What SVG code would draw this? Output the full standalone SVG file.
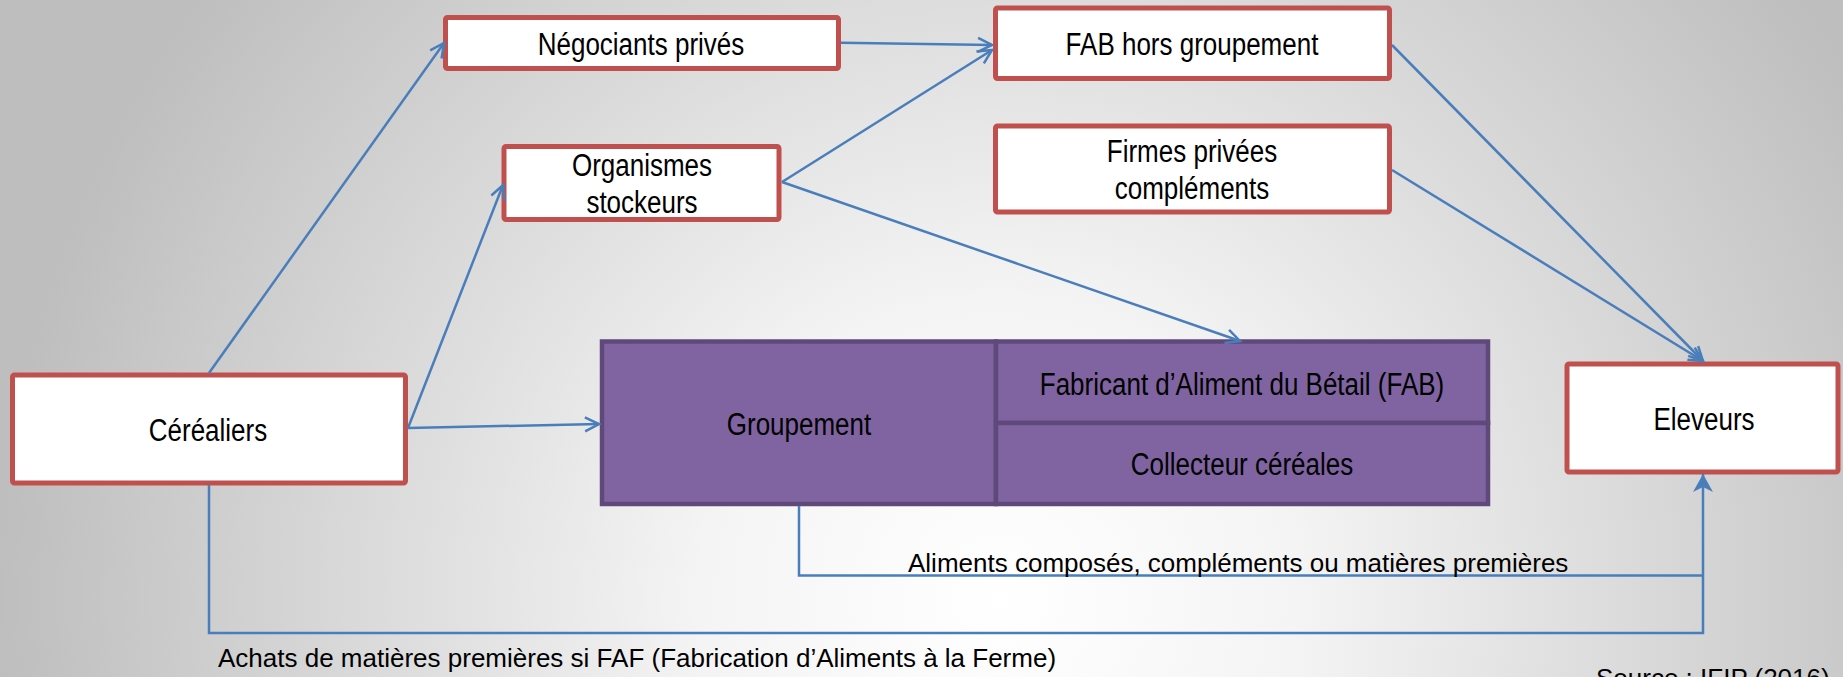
<svg xmlns="http://www.w3.org/2000/svg" width="1843" height="677" viewBox="0 0 1843 677">
<defs>
<radialGradient id="bg" gradientUnits="userSpaceOnUse" cx="1000" cy="600" r="1000">
<stop offset="0" stop-color="#FFFFFF"/>
<stop offset="0.3" stop-color="#F4F4F4"/>
<stop offset="1" stop-color="#BEBEBE"/>
</radialGradient>
<marker id="open" markerUnits="userSpaceOnUse" markerWidth="20" markerHeight="20" refX="15" refY="8" orient="auto" overflow="visible">
<path d="M1,1 L15,8 L1,15" fill="none" stroke="#4A7EBB" stroke-width="2.5"/>
</marker>
<marker id="stealth" markerUnits="userSpaceOnUse" markerWidth="22" markerHeight="24" refX="18" refY="10" orient="auto" overflow="visible">
<path d="M0,0 L18,10 L0,20 L5,10 Z" fill="#4A7EBB"/>
</marker>
</defs>
<style>
.box{fill:#FFFFFF;stroke:#C0504D;stroke-width:5}
.grp{fill:#8064A2;stroke:#5F497A;stroke-width:4.5}
.nt{font-family:"Liberation Sans",Arial,sans-serif;font-size:26px;text-anchor:middle;fill:#000000}
.lbl{font-family:"Liberation Sans",Arial,sans-serif;font-size:26px;fill:#000000}
.c{fill:none;stroke:#4A7EBB;stroke-width:2.5}
</style>
<rect x="0" y="0" width="1843" height="677" fill="url(#bg)"/>

<g id="negociants">
<rect class="box" x="445.5" y="17.5" width="393" height="51" rx="2"/>
<text class="nt" transform="translate(641,55) scale(1,1.2)">Négociants privés</text>
</g>
<g id="organismes">
<rect class="box" x="504" y="146.5" width="275" height="73" rx="2"/>
<text class="nt" transform="translate(642,175.5) scale(1,1.2)">Organismes</text>
<text class="nt" transform="translate(642,212.5) scale(1,1.2)">stockeurs</text>
</g>
<g id="fab-hors">
<rect class="box" x="995.5" y="8" width="394" height="70.5" rx="2"/>
<text class="nt" transform="translate(1192,55) scale(1,1.2)">FAB hors groupement</text>
</g>
<g id="firmes">
<rect class="box" x="995.5" y="126" width="394" height="86" rx="2"/>
<text class="nt" transform="translate(1192,161.5) scale(1,1.2)">Firmes privées</text>
<text class="nt" transform="translate(1192,199) scale(1,1.2)">compléments</text>
</g>
<g id="cerealiers">
<rect class="box" x="12.5" y="375" width="393" height="108" rx="2"/>
<text class="nt" transform="translate(208,441) scale(1,1.2)">Céréaliers</text>
</g>
<g id="eleveurs">
<rect class="box" x="1567" y="364" width="271" height="108" rx="2"/>
<text class="nt" transform="translate(1704,429.5) scale(1,1.2)">Eleveurs</text>
</g>
<g id="groupement">
<rect class="grp" x="602" y="341.5" width="394" height="162.5"/>
<text class="nt" transform="translate(799,435) scale(1,1.2)">Groupement</text>
</g>
<g id="fab">
<rect class="grp" x="996" y="341.5" width="492" height="81.5"/>
<text class="nt" transform="translate(1242,395) scale(1,1.2)">Fabricant d’Aliment du Bétail (FAB)</text>
</g>
<g id="collecteur">
<rect class="grp" x="996" y="423" width="492" height="81"/>
<text class="nt" transform="translate(1242,475) scale(1,1.2)">Collecteur céréales</text>
</g>

<g id="connectors">
<line class="c" x1="209" y1="373" x2="444" y2="43" marker-end="url(#open)"/>
<line class="c" x1="408" y1="428" x2="503" y2="185" marker-end="url(#open)"/>
<line class="c" x1="408" y1="428" x2="599" y2="424" marker-end="url(#open)"/>
<line class="c" x1="841" y1="42.7" x2="992" y2="45" marker-end="url(#open)"/>
<line class="c" x1="782" y1="182" x2="992" y2="50" marker-end="url(#open)"/>
<line class="c" x1="782" y1="182" x2="1240" y2="341" marker-end="url(#open)"/>
<line class="c" x1="1392" y1="45" x2="1703" y2="361" marker-end="url(#open)"/>
<line class="c" x1="1392" y1="170" x2="1703" y2="361" marker-end="url(#open)"/>
<path class="c" d="M799,506 V575.5 H1703"/>
<path class="c" d="M209,485 V633 H1703 V474" marker-end="url(#stealth)"/>
</g>

<text class="lbl" x="908" y="572">Aliments composés, compléments ou matières premières</text>
<text class="lbl" x="218" y="667">Achats de matières premières si FAF (Fabrication d’Aliments à la Ferme)</text>
<text class="lbl" x="1596" y="687">Source : IFIP (2016)</text>
</svg>
